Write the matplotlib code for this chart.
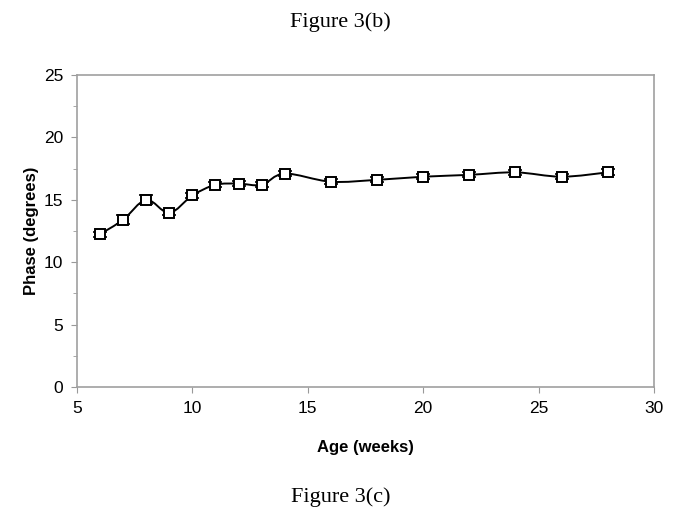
import numpy as np
import matplotlib
matplotlib.use('Agg')
import matplotlib.pyplot as plt
from matplotlib.path import Path
from matplotlib.patches import PathPatch

plt.rcParams['font.family'] = ['Liberation Sans', 'DejaVu Sans']

age_weeks = [6, 7, 8, 9, 10, 11, 12, 13, 14, 16, 18, 20, 22, 24, 26, 28]
phase_deg = [12.25, 13.4, 15.0, 13.95, 15.35, 16.2, 16.3, 16.2, 17.1,
             16.45, 16.6, 16.85, 17.0, 17.2, 16.85, 17.2]
phase_err = [0.2, 0.35, 0.35, 0.2, 0.2, 0.2, 0.2, 0.2, 0.2,
             0.2, 0.2, 0.2, 0.2, 0.2, 0.2, 0.25]

fig = plt.figure(figsize=(6.74, 5.29), dpi=100)
ax = fig.add_axes([0.1142, 0.2684, 0.8561, 0.5898])

# Excel-style smoothed line: cubic bezier through the points
x = np.array(age_weeks, dtype=float)
y = np.array(phase_deg, dtype=float)
verts = [(x[0], y[0])]
codes = [Path.MOVETO]
n = len(x)
for i in range(n - 1):
    p0 = np.array([x[max(i - 1, 0)], y[max(i - 1, 0)]])
    p1 = np.array([x[i], y[i]])
    p2 = np.array([x[i + 1], y[i + 1]])
    p3 = np.array([x[min(i + 2, n - 1)], y[min(i + 2, n - 1)]])
    c1 = p1 + (p2 - p0) / 6.0
    c2 = p2 - (p3 - p1) / 6.0
    verts += [tuple(c1), tuple(c2), tuple(p2)]
    codes += [Path.CURVE4] * 3
ax.add_patch(PathPatch(Path(verts, codes), facecolor='none', edgecolor='black',
                       lw=1.4, zorder=2))

ax.errorbar(age_weeks, phase_deg, yerr=phase_err, fmt='none', ecolor='black',
            elinewidth=1.0, capsize=5, capthick=1.2, zorder=3)
ax.plot(age_weeks, phase_deg, linestyle='none', marker='s', markersize=7.8,
        markerfacecolor='white', markeredgecolor='black', markeredgewidth=1.4,
        zorder=4)

ax.set_xlim(5, 30)
ax.set_ylim(0, 25)
ax.set_xticks([5, 10, 15, 20, 25, 30])
ax.set_yticks([0, 5, 10, 15, 20, 25])
ax.set_yticks(np.arange(0, 25.1, 2.5), minor=True)
ax.tick_params(axis='both', which='major', labelsize=12.5, direction='out',
               length=4, color='#999999', pad=6)
ax.tick_params(axis='y', which='minor', direction='out', length=3, color='#999999')
for sp in ax.spines.values():
    sp.set_color('#a0a0a0')
    sp.set_linewidth(1.2)

ax.set_xlabel('Age (weeks)', fontsize=12, fontweight='bold', labelpad=17)
ax.set_ylabel('Phase (degrees)', fontsize=12, fontweight='bold', labelpad=3)

fig.text(0.505, 0.958, 'Figure 3(b)', ha='center', va='center', fontsize=16,
         family=['Liberation Serif', 'DejaVu Serif'])
fig.text(0.505, 0.06, 'Figure 3(c)', ha='center', va='center', fontsize=16,
         family=['Liberation Serif', 'DejaVu Serif'])

fig.savefig('out.png', dpi=100)
